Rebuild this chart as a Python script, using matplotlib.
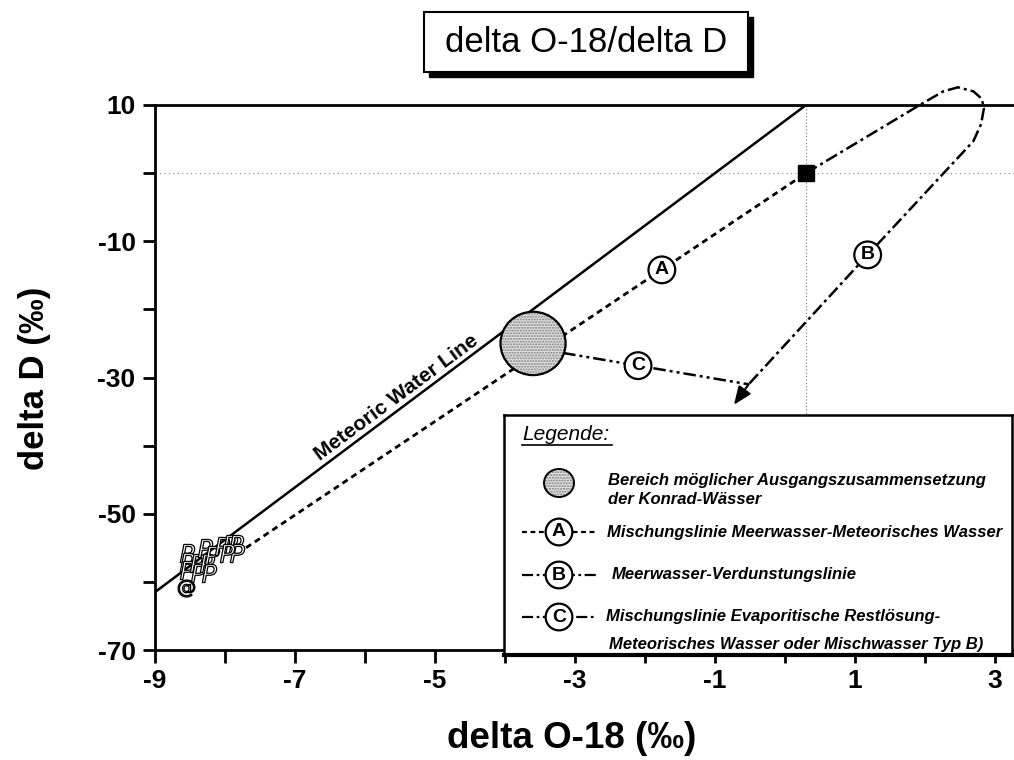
import matplotlib.pyplot as plt
from matplotlib.patches import Ellipse, Rectangle

plt.rcParams['font.family'] = ['Liberation Sans', 'DejaVu Sans']
plt.rcParams['axes.unicode_minus'] = False

W, H = 1014, 760

# Meteoric water line
mwl_x = [-9.0, 0.3]
mwl_y = [-61.5, 10.0]

# sea water (SMOW)
smow_x = [0.3]
smow_y = [0.0]

# A: mixing line sea water - meteoric water
mix_a_x = [-7.7, 0.3]
mix_a_y = [-55.0, 0.0]

# B: sea water evaporation line (loops past the top of the plot)
evap_b_x = [0.3, 1.94, 2.26, 2.47, 2.69, 2.81, 2.84, 2.80, 2.69, 1.18, -0.52]
evap_b_y = [0.0, 10.1, 12.0, 12.6, 12.0, 10.9, 9.5, 7.2, 4.7, -12.0, -31.0]
arrow_tip = (-0.73, -34.0)

# C: mixing line evaporitic brine - meteoric water
mix_c_x = [-3.17, -2.1, -0.52]
mix_c_y = [-26.4, -28.26, -31.0]

# possible initial composition of the Konrad waters
konrad_center = (-3.6, -25.0)
konrad_width = 0.93
konrad_height = 9.3

line_labels = ['A', 'B', 'C']
label_x = [-1.76, 1.18, -2.1]
label_y = [-14.2, -12.0, -28.26]

# samples
p_x = [-8.54, -8.54, -8.54, -8.40, -8.39, -8.29, -8.26, -8.23, -8.19,
       -8.04, -7.93, -7.84, -7.83, -7.97]
p_y = [-55.8, -57.1, -58.3, -57.2, -58.7, -55.0, -57.2, -58.7, -56.1,
       -54.7, -54.4, -54.4, -55.8, -55.8]
q_x = [-8.56]
q_y = [-60.9]

xticks = list(range(-9, 4))
xticklabels = [str(v) if v % 2 else '' for v in xticks]
yticks = list(range(-70, 11, 10))
yticklabels = [str(v) if v % 20 == 10 else '' for v in yticks]

style_a = (0, (2.2, 1.6))
style_b = (0, (5, 1.6, 1.2, 1.6))
style_c = (0, (5, 1.6, 1.2, 1.6, 1.2, 1.6))

fig = plt.figure(figsize=(W / 100, H / 100), dpi=100)
ax = fig.add_axes([155 / W, (H - 650) / H, (W - 155) / W, 545 / H])
ax.set_xlim(-9, 3.27)
ax.set_ylim(-70, 10)

for side in ['left', 'bottom', 'top']:
    ax.spines[side].set_linewidth(2)
ax.spines['right'].set_visible(False)

ax.set_xticks(xticks)
ax.set_xticklabels(xticklabels, fontsize=19, fontweight='bold')
ax.set_yticks(yticks)
ax.set_yticklabels(yticklabels, fontsize=19, fontweight='bold')
ax.tick_params(direction='out', length=9, width=2, pad=5)

# reference lines through sea water
ax.axhline(smow_y[0], color='#888888', lw=0.8, ls=(0, (1, 3)), zorder=1)
ax.axvline(smow_x[0], color='#777777', lw=0.8, ls=(0, (1, 2)), zorder=1)

ax.plot(mwl_x, mwl_y, color='black', lw=1.8, zorder=2)
ax.plot(mix_a_x, mix_a_y, color='black', lw=2, ls=style_a, zorder=2)
ax.plot(evap_b_x, evap_b_y, color='black', lw=1.8, ls=style_b, zorder=2,
        clip_on=False)
ax.plot(mix_c_x, mix_c_y, color='black', lw=1.8, ls=style_c, zorder=2)
ax.annotate('', xy=arrow_tip, xytext=(evap_b_x[-1], evap_b_y[-1]),
            arrowprops=dict(arrowstyle='-|>,head_length=1.1,head_width=0.45',
                            color='black', lw=1.5, shrinkA=0, shrinkB=0))

ax.plot(smow_x, smow_y, 's', color='black', markersize=11, zorder=4)

ax.add_patch(Ellipse(konrad_center, konrad_width, konrad_height,
                     facecolor='#e0e0e0', edgecolor='#808080', hatch='......',
                     lw=0, zorder=3))
ax.add_patch(Ellipse(konrad_center, konrad_width, konrad_height,
                     facecolor='none', edgecolor='black', lw=1.6, zorder=3))

for lab, lx, ly in zip(line_labels, label_x, label_y):
    ax.text(lx, ly, lab, ha='center', va='center', fontsize=14,
            fontweight='bold', zorder=5,
            bbox=dict(boxstyle='circle,pad=0.25', fc='white', ec='black',
                      lw=1.6))

ax.scatter(p_x, p_y, marker='$P$', s=170, facecolor='white',
           edgecolor='black', linewidths=0.9, zorder=4)
ax.scatter(q_x, q_y, marker='$@$', s=150, facecolor='white',
           edgecolor='black', linewidths=0.9, zorder=4)

ax.text(-5.55, -33.0, 'Meteoric Water Line', fontsize=15, fontweight='bold',
        rotation=36.5, rotation_mode='anchor', ha='center', va='center')

# axis titles
fig.text(572 / W, (H - 738) / H, 'delta O-18 (‰)', fontsize=26.5,
         fontweight='bold', ha='center', va='center')
fig.text(35 / W, (H - 378) / H, 'delta D (‰)', fontsize=25,
         fontweight='bold', ha='center', va='center', rotation=90)

# title box with drop shadow
fig.add_artist(Rectangle(((424 + 5) / W, (H - 72 - 5) / H), 324 / W, 60 / H,
                         transform=fig.transFigure, color='black'))
fig.add_artist(Rectangle((424 / W, (H - 72) / H), 324 / W, 60 / H,
                         transform=fig.transFigure, facecolor='white',
                         edgecolor='black', lw=1.5))
fig.text(586 / W, (H - 42) / H, 'delta O-18/delta D', fontsize=25,
         ha='center', va='center')

# legend panel
lg = fig.add_axes([504 / W, (H - 655) / H, 508 / W, 240 / H])
lg.set_xlim(0, 508)
lg.set_ylim(240, 0)
lg.set_xticks([])
lg.set_yticks([])
for side in lg.spines:
    lg.spines[side].set_linewidth(1.8)
lg.spines['bottom'].set_linewidth(3)

leg_font = dict(fontsize=12, fontstyle='italic', fontweight='bold',
                va='center', ha='left')
lg.text(18, 20, 'Legende:', fontsize=15, fontstyle='italic', va='center')
lg.plot([18, 108], [30, 30], color='black', lw=1.2)

lg.add_patch(Ellipse((55, 68), 30, 28, facecolor='#e0e0e0',
                     edgecolor='#808080', hatch='......', lw=0))
lg.add_patch(Ellipse((55, 68), 30, 28, facecolor='none', edgecolor='black',
                     lw=1.4))
lg.text(104, 65, 'Bereich möglicher Ausgangszusammensetzung', **leg_font)
lg.text(104, 84, 'der Konrad-Wässer', **leg_font)

legend_rows = [('A', 117, style_a, 'Mischungslinie Meerwasser-Meteorisches Wasser', 103),
               ('B', 160, style_b, 'Meerwasser-Verdunstungslinie', 108),
               ('C', 202, style_c, 'Mischungslinie Evaporitische Restlösung-', 102)]
for lab, ry, ls, txt, tx in legend_rows:
    lg.plot([18, 93], [ry, ry], color='black', lw=1.6, ls=ls)
    lg.text(55, ry, lab, ha='center', va='center', fontsize=14,
            fontweight='bold',
            bbox=dict(boxstyle='circle,pad=0.25', fc='white', ec='black',
                      lw=1.6))
    lg.text(tx, ry, txt, **leg_font)
lg.text(105, 230, 'Meteorisches Wasser oder Mischwasser Typ B)', **leg_font)

fig.savefig('out.png', dpi=100)
